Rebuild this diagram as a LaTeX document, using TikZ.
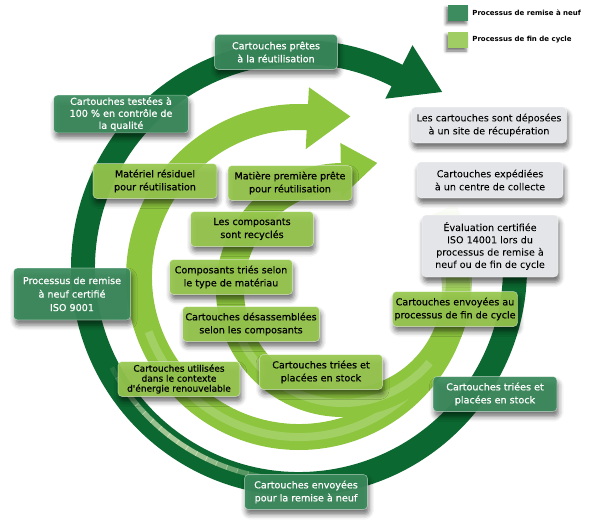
\documentclass[tikz,border=0pt]{standalone}
\usepackage{fontspec}
\setmainfont{DejaVu Sans}
\newfontfamily\boxfam{DejaVu Sans}[RawFeature={embolden=0.6}]
\usetikzlibrary{calc,positioning,shadows.blur,fadings}
\definecolor{ringdark}{RGB}{11,104,48}
\definecolor{arclight}{RGB}{141,197,62}
\definecolor{boxdark}{RGB}{58,138,92}
\definecolor{boxlight}{RGB}{151,200,78}
\definecolor{boxgray}{RGB}{227,229,232}
\definecolor{stripe}{RGB}{222,234,190}
\definecolor{legdark}{RGB}{60,140,95}
\definecolor{leglight}{RGB}{160,205,100}
\newcommand{\boxfont}{\boxfam\fontsize{9.6}{13}\selectfont}
\tikzstyle{cartbox}=[rounded corners=4pt,draw=white,draw opacity=0.45,line width=0.6pt,align=center,inner sep=2pt,minimum width=123pt,minimum height=35pt,font=\boxfont,blur shadow={shadow xshift=1.5pt,shadow yshift=-5pt,shadow blur radius=5pt,shadow opacity=60}]
\tikzstyle{Dbox}=[cartbox,fill=boxdark,fill opacity=0.92,text opacity=1,text=white]
\tikzstyle{Lbox}=[cartbox,fill=boxlight,fill opacity=0.92,text opacity=1,text=black]
\tikzstyle{Gbox}=[cartbox,fill=boxgray,text=black]
\tikzstyle{legsquare}=[minimum width=20pt,minimum height=16pt,inner sep=0pt,blur shadow={shadow xshift=-2pt,shadow yshift=-3pt,shadow blur radius=3pt,shadow opacity=55}]
\tikzstyle{legtext}=[font=\fontsize{7}{8}\selectfont\bfseries,inner sep=1pt]

\begin{document}
\begin{tikzpicture}[x=1pt,y=1pt]
\useasboundingbox (0,0) rectangle (591,-527);

\coordinate (C1) at (299,-268);
\coordinate (C2) at (299,-277);
\coordinate (C3) at (343,-290);

% remise a neuf
\fill[ringdark] ($(C1)+(3:228)$) arc[start angle=3,end angle=-297,radius=228] -- ($(C1)+(63:250)$) -- ($(C1)+(63:216)+(-20:48)$) -- ($(C1)+(63:190)$) -- ($(C1)+(63:204)$) arc[start angle=63,end angle=363,radius=204] -- cycle;
\foreach \a in {205,208,...,259}{
  \pgfmathsetmacro\op{0.75*sin((\a-205)*180/57)}
  \draw[stripe,line width=5,opacity=\op] ($(C1)+(\a:212)$) arc[start angle=\a,end angle=\a+3.2,radius=212];
}

% fin de cycle
\fill[arclight] ($(C2)+(87:173)$) arc[start angle=87,end angle=345,radius=173] -- ($(C2)+(345:147)$) arc[start angle=345,end angle=87,radius=147] -- ($(C2)+(87:128)$) -- ($(C2)+(87:160)+(1:43)$) -- ($(C2)+(87:190)$) -- cycle;
\fill[arclight,path fading=north] ($(C2)+(340:173)$) arc[start angle=340,end angle=385,radius=173] -- ($(C2)+(385:147)$) arc[start angle=385,end angle=340,radius=147] -- cycle;
\draw[white,opacity=0.2,line width=8] ($(C2)+(200:160)$) arc[start angle=200,end angle=330,radius=160];

\fill[arclight] ($(C3)+(91:127)$) arc[start angle=91,end angle=345,radius=127] -- ($(C3)+(345:99)$) arc[start angle=345,end angle=91,radius=99] -- ($(C3)+(91:93)$) -- ($(C3)+(91:120)+(11:37)$) -- ($(C3)+(91:147)$) -- cycle;
\fill[arclight,path fading=north] ($(C3)+(340:127)$) arc[start angle=340,end angle=388,radius=127] -- ($(C3)+(388:99)$) arc[start angle=388,end angle=340,radius=99] -- cycle;
\draw[white,opacity=0.2,line width=8] ($(C3)+(190:113)$) arc[start angle=190,end angle=320,radius=113];

% legende
\node[legsquare,fill=legdark] (LEGD) at (458,-13){};
\node[legtext,right=3pt of LEGD] (LEGDT){Processus de remise à neuf};
\node[legsquare,fill=leglight] (LEGL) at (458,-40){};
\node[legtext,right=3pt of LEGL] (LEGLT){Processus de fin de cycle};

\node[Dbox] (PRETES) at (276,-52){Cartouches prêtes\\à la réutilisation};

\node[Dbox,minimum width=135pt,minimum height=37pt,font=\boxfam\fontsize{9.6}{12}\selectfont] (TESTEES) at (121,-114){Cartouches testées à\\100 \% en contrôle de\\la qualité};

\node[Dbox,minimum width=117pt,minimum height=52pt,font=\boxfam\fontsize{9.6}{13.5}\selectfont] (ISO) at (72,-294){Processus de remise\\à neuf certifié\\ISO 9001};

\node[Dbox,minimum width=124pt] (TRIEESD) at (495,-394){Cartouches triées et\\placées en stock};

\node[Dbox] (ENVREM) at (306,-492){Cartouches envoyées\\pour la remise à neuf};

\node[Lbox,minimum width=124pt] (RESID) at (155,-181){Matériel résiduel\\pour réutilisation};

\node[Lbox,minimum width=124pt] (MATIERE) at (290,-183){Matière première prête\\pour réutilisation};

\node[Lbox] (RECYC) at (252,-229){Les composants\\sont recyclés};

\node[Lbox] (TRIES) at (231,-277){Composants triés selon\\le type de matériau};

\node[Lbox,minimum width=137pt] (DESASS) at (251,-324){Cartouches désassemblées\\selon les composants};

\node[Lbox,minimum width=122pt,font=\boxfam\fontsize{9}{10}\selectfont] (UTIL) at (179,-379){Cartouches utilisées\\dans le contexte\\d'énergie renouvelable};

\node[Lbox] (TRIEESL) at (321,-372){Cartouches triées et\\placées en stock};

\node[Lbox,minimum width=124pt] (ENVFIN) at (455,-309){Cartouches envoyées au\\processus de fin de cycle};

\node[Gbox,minimum width=155pt,minimum height=36pt] (DEPOS) at (489,-125){Les cartouches sont déposées\\à un site de récupération};

\node[Gbox,minimum width=146pt,minimum height=36pt] (EXPED) at (490,-180){Cartouches expédiées\\à un centre de collecte};

\node[Gbox,minimum width=136pt,minimum height=62pt,font=\boxfam\fontsize{9.6}{12.3}\selectfont] (EVAL) at (490,-246){Évaluation certifiée\\ISO 14001 lors du\\processus de remise à\\neuf ou de fin de cycle};

\end{tikzpicture}
\end{document}
